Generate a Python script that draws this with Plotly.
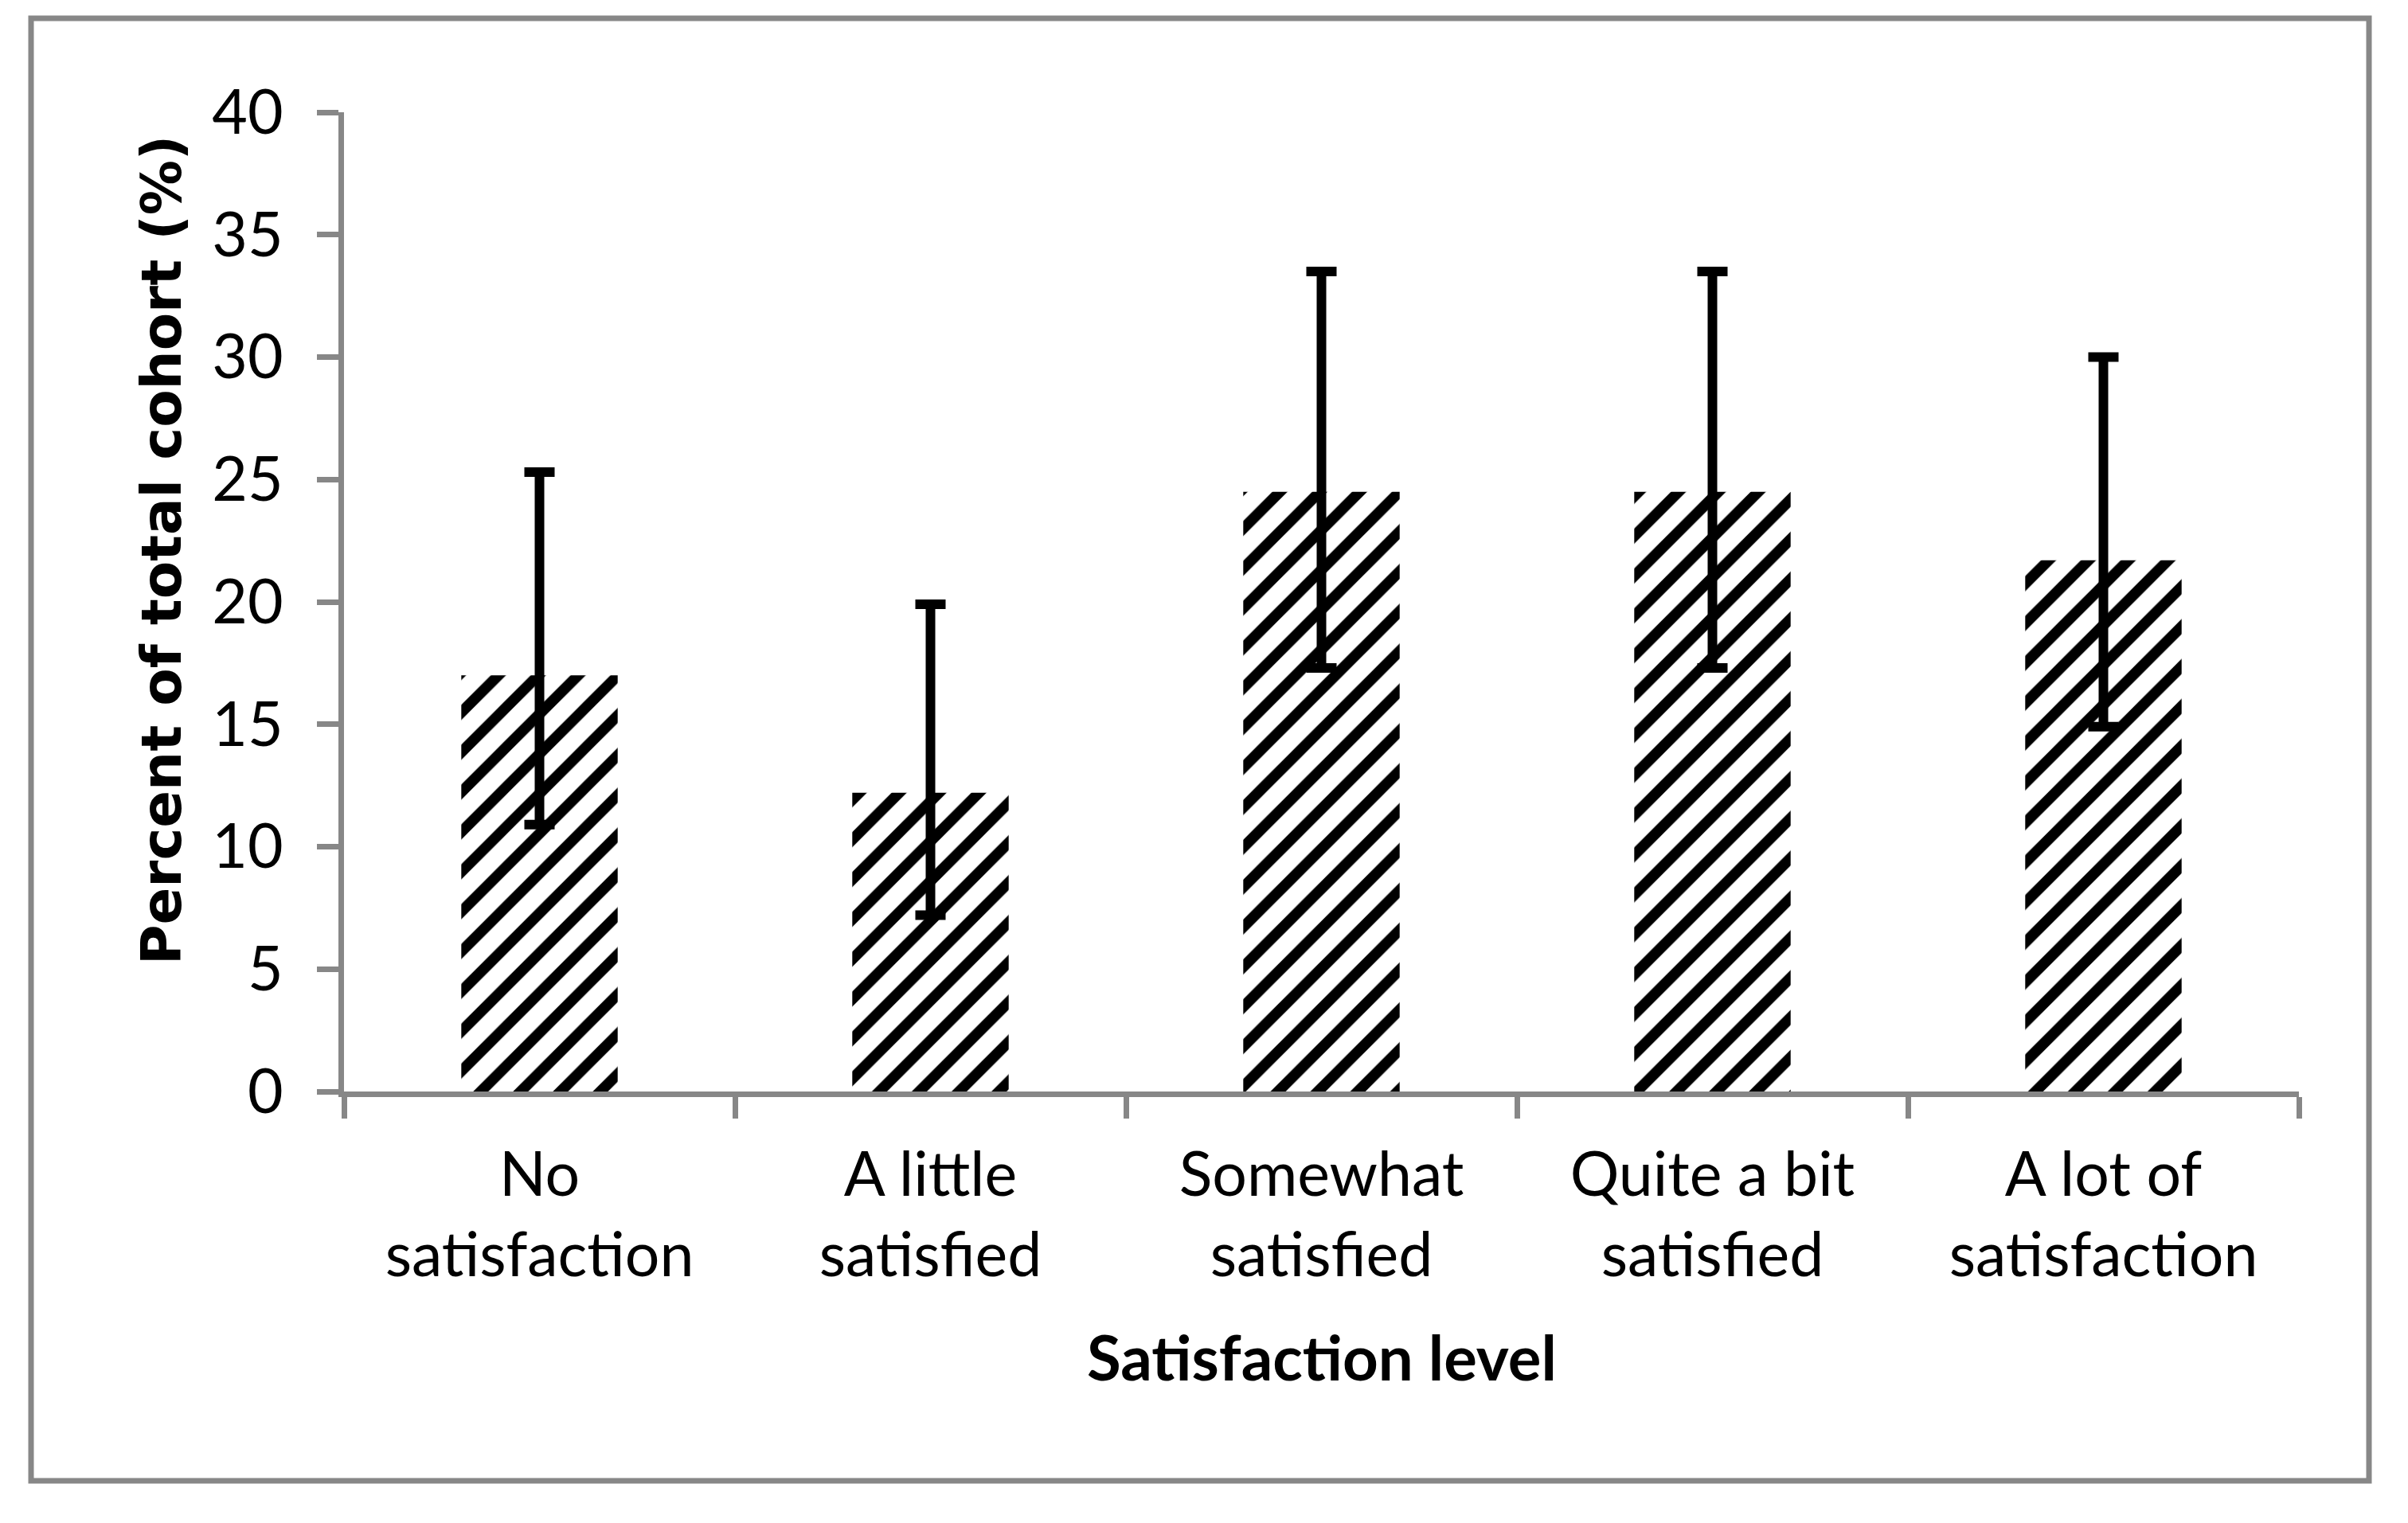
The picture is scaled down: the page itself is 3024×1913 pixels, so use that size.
import plotly.graph_objects as go

# ---- data ----
categories = ["No<br>satisfaction", "A little<br>satisfied", "Somewhat<br>satisfied",
              "Quite a bit<br>satisfied", "A lot of<br>satisfaction"]
percent = [17.0, 12.2, 24.5, 24.5, 21.7]
ci_upper = [25.3, 19.9, 33.5, 33.5, 30.0]
ci_lower = [10.9, 7.2, 17.3, 17.3, 14.9]
y_ticks = [0, 5, 10, 15, 20, 25, 30, 35, 40]

err_plus = [u - v for u, v in zip(ci_upper, percent)]
err_minus = [v - l for v, l in zip(percent, ci_lower)]

W, H = 3024, 1913
OFF = 8  # page body margin
L, R, T, B = 432 - OFF, 2887 - OFF, 141 - OFF, 1371 - OFF  # plot area pixel box
GRAY = "#878787"
FONT = "Lato, Calibri, sans-serif"


def px_x(x):
    return (x - OFF - L) / (R - L)


def px_y(y):
    return (B - (y - OFF)) / (B - T)


fig = go.Figure()
fig.add_trace(go.Bar(
    x=categories,
    y=percent,
    marker=dict(
        color="white",
        line=dict(width=0),
        pattern=dict(shape="/", fgcolor="black", bgcolor="white",
                     size=35.4, solidity=0.38, fillmode="replace"),
    ),
    error_y=dict(type="data", symmetric=False, array=err_plus, arrayminus=err_minus,
                 color="black", thickness=12, width=19),
    showlegend=False,
))

fig.update_layout(
    width=W, height=H,
    margin=dict(l=L, r=W - R, t=T, b=H - B, autoexpand=False),
    paper_bgcolor="white", plot_bgcolor="white",
    bargap=0.6,
    font=dict(family=FONT, color="black"),
    xaxis=dict(
        showgrid=False, showline=True, linecolor=GRAY, linewidth=7,
        ticks="outside", tickson="boundaries", ticklen=27, tickwidth=7, tickcolor=GRAY,
        tickfont=dict(size=77, family=FONT, color="black"),
        ticklabelstandoff=32, automargin=False,
    ),
    yaxis=dict(
        range=[0, 40], tickvals=y_ticks, showgrid=False, zeroline=False,
        showline=True, linecolor=GRAY, linewidth=7,
        ticks="outside", ticklen=27, tickwidth=7, tickcolor=GRAY,
        tickfont=dict(size=77, family=FONT, color="black"),
        ticklabelstandoff=27, automargin=False,
    ),
    annotations=[
        dict(text="<b>Satisfaction level</b>", xref="paper", yref="paper",
             x=0.5, y=px_y(1704), xanchor="center", yanchor="middle",
             showarrow=False, font=dict(size=78, family=FONT, color="black")),
        dict(text="<b>Percent of total cohort (%)</b>", xref="paper", yref="paper",
             x=px_x(203), y=px_y(691), xanchor="center", yanchor="middle", textangle=-90,
             showarrow=False, font=dict(size=69, family="DejaVu Sans, sans-serif", color="black")),
    ],
    shapes=[
        dict(type="rect", xref="paper", yref="paper",
             x0=px_x(39), x1=px_x(2975), y0=px_y(1860), y1=px_y(23),
             line=dict(color=GRAY, width=7), fillcolor="rgba(0,0,0,0)", layer="below"),
    ],
)

fig.write_html("out.html")
